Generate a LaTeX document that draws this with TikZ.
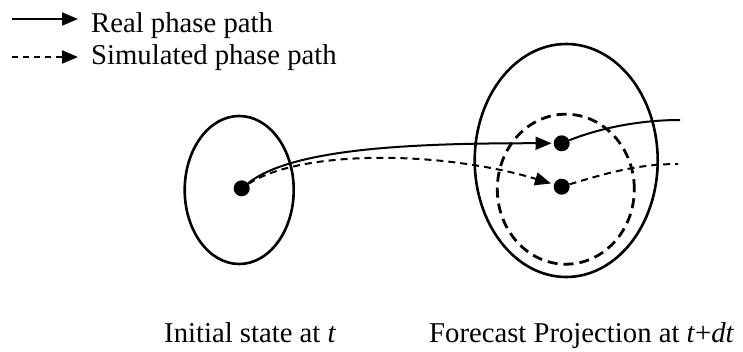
\documentclass[tikz,border=0pt]{standalone}
\usepackage{fontspec}
\setmainfont{Liberation Serif}
\usetikzlibrary{arrows.meta,shapes.geometric}
\begin{document}
\begin{tikzpicture}[x=1pt,y=-1pt,
  tip/.style={-{Triangle[length=16pt,width=13pt]}},
  curve/.style={line width=2pt},
  dcurve/.style={line width=2pt,dash pattern=on 7pt off 5pt},
  region/.style={draw,ellipse,line width=2.6pt,inner sep=0pt},
  dregion/.style={draw,ellipse,line width=2.8pt,inner sep=0pt,dash pattern=on 10pt off 6pt},
  dot/.style={circle,fill=black,inner sep=0pt,minimum size=16pt},
  lbl/.style={anchor=base west,inner sep=0pt,font=\fontsize{28.7}{34}\selectfont}]
\useasboundingbox (0,0) rectangle (743,352);
% legend
\coordinate (l1s) at (12,19);
\coordinate (l1e) at (78,19);
\coordinate (l2s) at (12,57);
\coordinate (l2e) at (78,57);
\draw[curve,tip] (l1s) -- (l1e);
\draw[curve,tip,dash pattern=on 6pt off 5pt] (l2s) -- (l2e);
\node[lbl] (t1) at (91,33) {Real phase path};
\node[lbl] (t2) at (91,65) {Simulated phase path};
% regions
\node[region,minimum width=109pt,minimum height=148pt] (e1) at (239.2,190) {};
\node[region,minimum width=183pt,minimum height=233pt] (e2) at (566.2,160.5) {};
\node[dregion,minimum width=137pt,minimum height=150pt] (e3) at (565.8,189.2) {};
% dots
\node[dot] (d0) at (241.7,188.3) {};
\node[dot] (d1) at (561.7,143.3) {};
\node[dot] (d2) at (561.7,186.7) {};
\coordinate (r1) at (680,120);
\coordinate (r2) at (678,164);
% paths
\draw[curve,tip,shorten >=2pt] (d0) .. controls (290,150) and (400,143) .. (d1);
\draw[dcurve,tip,shorten >=3pt] (d0) .. controls (300,150) and (440,150) .. (d2);
\draw[curve] (d1) .. controls (600,128) and (640,120) .. (r1);
\draw[dcurve] (d2) .. controls (610,172) and (640,164) .. (r2);
% labels
\node[lbl] (b1) at (164,342) {Initial state at \textit{t}};
\node[lbl] (b2) at (429,342) {Forecast Projection at \textit{t}+\textit{dt}};
\end{tikzpicture}
\end{document}
